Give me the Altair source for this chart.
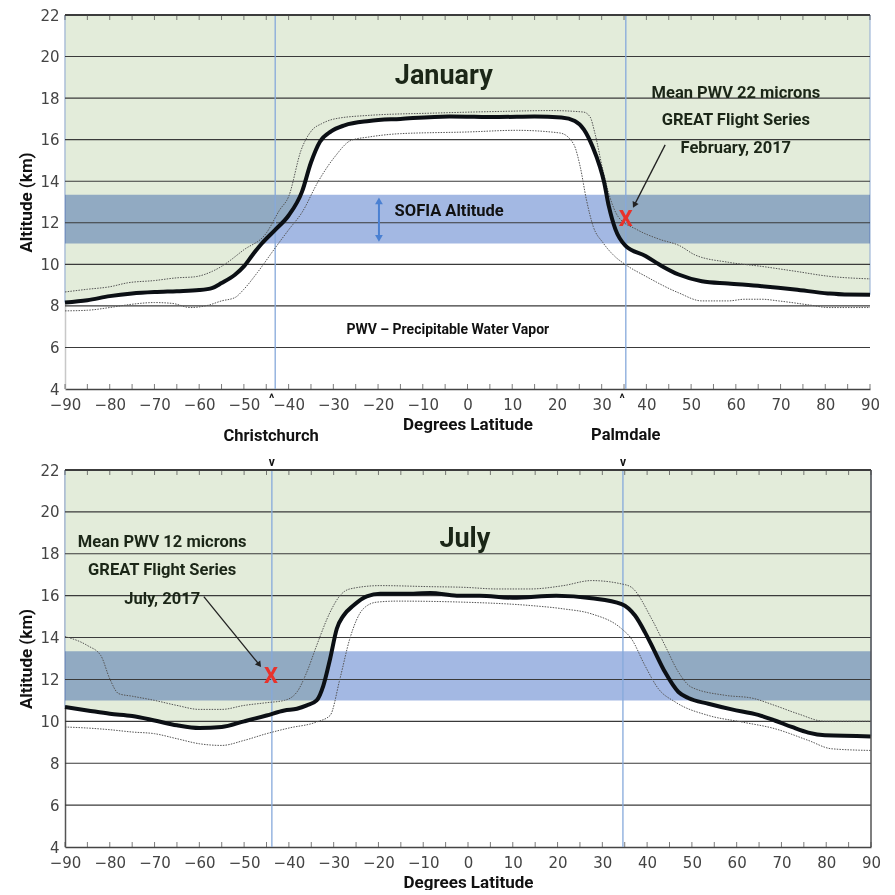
import altair as alt
import pandas as pd

# ---------------- data ----------------
jan_mean_lat = [-90, -85, -80, -75, -70, -65, -60, -57, -55, -52, -50, -48, -46, -43, -40, -37, -35, -33,
                -30.5, -27.5, -22, -15, -4, 7, 15, 21, 24, 26, 28, 29.6, 30.5, 31.6, 33.1, 35.3, 39.8,
                43.5, 47.2, 52.4, 58.3, 65.8, 73.2, 80.6, 84.3, 90]
jan_mean_alt = [8.16, 8.27, 8.47, 8.6, 8.67, 8.71, 8.76, 8.87, 9.1, 9.5, 9.9, 10.47, 11.0, 11.66, 12.35, 13.5,
                14.9, 15.9, 16.4, 16.69, 16.9, 17.0, 17.12, 17.09, 17.12, 17.07, 16.9, 16.5, 15.65, 14.7,
                14.0, 12.8, 11.67, 10.9, 10.4, 9.91, 9.51, 9.19, 9.08, 8.95, 8.79, 8.6, 8.55, 8.54]

jan_up_lat = [-90, -85, -80, -76, -70, -65, -61, -57, -55, -50, -45, -42, -40, -37.2, -34.8, -32.6, -29.7,
              -22, -7.4, 7.4, 18.5, 25.9, 27.4, 28.5, 30.3, 31.6, 33.7, 37.9, 43, 47.4, 50.9, 58.3, 65.8,
              73.2, 80.6, 90]
jan_up_alt = [8.67, 8.8, 8.92, 9.11, 9.22, 9.35, 9.4, 9.67, 9.9, 10.7, 11.5, 12.62, 13.26, 15.5, 16.45, 16.77,
              17.0, 17.17, 17.28, 17.36, 17.4, 17.33, 17.1, 16.3, 14.5, 13.4, 12.29, 11.67, 11.2, 10.9, 10.45,
              10.1, 9.9, 9.67, 9.43, 9.3]

jan_lo_lat = [-90, -85, -80, -75, -70, -66, -62, -58, -55, -52, -50, -47, -43, -40, -37, -33.4, -29.7, -26,
              -22, -15, 0, 11, 20.7, 23.7, 25.2, 26.6, 28.1, 30.3, 33, 35.3, 39.8, 47.2, 52.4, 58.3, 62,
              65.8, 69.5, 76.9, 80.6, 90]
jan_lo_alt = [7.76, 7.79, 7.92, 8.08, 8.16, 8.12, 7.92, 8.03, 8.24, 8.4, 8.8, 9.6, 10.79, 11.66, 12.5, 13.98,
              15.17, 15.97, 16.13, 16.29, 16.37, 16.45, 16.32, 15.8, 14.7, 13.1, 11.83, 11.04, 10.37, 9.99,
              9.43, 8.63, 8.24, 8.24, 8.32, 8.32, 8.24, 8.03, 7.92, 7.92]

jul_mean_lat = [-90, -85, -80, -75, -70, -65, -60, -55, -50, -45, -41, -38.2, -36, -33.8, -32.3, -30.8, -29.3,
                -27.8, -25.6, -22.6, -19.6, -12.2, -8.4, -2.5, 2.6, 10, 19.7, 27.6, 34.3, 37.3, 39.5, 41.4,
                44, 47, 49.2, 53.7, 58.9, 64.8, 68.5, 72.3, 76, 79.7, 90]
jul_mean_alt = [10.68, 10.52, 10.36, 10.25, 10.04, 9.81, 9.68, 9.73, 10.0, 10.28, 10.52, 10.6, 10.76, 11.0,
                11.71, 12.98, 14.42, 15.05, 15.53, 15.97, 16.09, 16.09, 16.13, 16.0, 16.0, 15.9, 16.0, 15.88,
                15.6, 15.05, 14.26, 13.46, 12.35, 11.4, 11.11, 10.84, 10.57, 10.31, 10.04, 9.73, 9.46, 9.33,
                9.28]

jul_up_lat = [-90, -85, -82, -80, -78, -75, -70, -65, -60, -55, -50, -45, -41, -38.2, -36, -33.8, -30.8,
              -28.6, -26.4, -19.6, -8.4, -1, 6.5, 13.9, 21.3, 27.6, 34.3, 36.5, 41, 44, 47, 49.9, 57.5,
              63.4, 68.5, 73.7, 79.7, 90]
jul_up_alt = [14.05, 13.62, 13.14, 12.03, 11.32, 11.2, 11.0, 10.76, 10.57, 10.57, 10.76, 10.89, 11.0, 11.4,
              12.35, 13.62, 15.21, 16.0, 16.32, 16.48, 16.43, 16.4, 16.32, 16.32, 16.48, 16.72, 16.56, 16.4,
              14.9, 13.62, 12.35, 11.63, 11.24, 11.11, 10.76, 10.36, 10.0, 10.0]

jul_lo_lat = [-90, -85, -80, -75, -70, -65, -60, -55, -50, -45, -40, -33.8, -30.8, -28.6, -26.4, -23.4,
              -20.4, -15.9, -1, 13.9, 21.3, 27.6, 34.3, 36.5, 39.5, 42.5, 46.3, 53.7, 61.1, 68.5, 76, 81.2, 90]
jul_lo_alt = [9.73, 9.68, 9.6, 9.49, 9.41, 9.17, 8.93, 8.85, 9.09, 9.41, 9.68, 9.97, 10.28, 12.03, 13.94,
              15.37, 15.69, 15.74, 15.69, 15.53, 15.37, 15.13, 14.42, 13.94, 12.67, 11.56, 10.92, 10.28, 9.97,
              9.65, 9.09, 8.69, 8.61]

sofia_band = [11.0, 13.35]          # SOFIA altitude band (km)
grid_vals = [6, 8, 10, 12, 14, 16, 18, 20]
y_ticks = list(range(4, 23, 2))
x_labels = list(range(-90, 91, 10))
x_minor = list(range(-90, 91, 5))
loc_names = ["Christchurch", "Palmdale"]
loc_lat_top = [-43.0, 35.4]
loc_lat_bot = [-43.8, 34.6]

jan_note = ["Mean PWV 22 microns", "GREAT Flight Series", "February, 2017"]
jan_note_pos = (60, [18.27, 16.93, 15.59])
jan_x = (35.4, 12.18)
jan_arrow = [(44.2, 15.75), (37.3, 12.85)]

jul_note = ["Mean PWV 12 microns", "GREAT Flight Series", "July, 2017"]
jul_note_pos = (-68.3, [18.56, 17.23, 15.85])
jul_x = (-44.0, 12.17)
jul_arrow = [(-59.0, 15.95), (-46.6, 12.7)]

# ---------------- styling ----------------
COND = "Roboto"
LAB = "DejaVu Sans"
TXT = "#1b2617"

XS = alt.Scale(domain=[-90, 90], nice=False, zero=False)
YS = alt.Scale(domain=[4, 22], nice=False, zero=False)


def xaxis(dom_color):
    return alt.Axis(title="Degrees Latitude", values=x_labels, ticks=False, grid=False,
                    domainColor=dom_color, domainWidth=1.5, labelFont=LAB, labelFontSize=15,
                    labelColor="#444", labelPadding=8, labelFlush=False, titleFont=COND,
                    titleFontSize=17, titleFontWeight="bold", titleColor="#111", titlePadding=4)


def yaxis(dom_color):
    return alt.Axis(title="Altitude (km)", values=y_ticks, ticks=False, grid=False,
                    domainColor=dom_color, domainWidth=1.5, labelFont=LAB, labelFontSize=15,
                    labelColor="#444", labelPadding=6, titleFont=COND, titleFontSize=17,
                    titleFontWeight="bold", titleColor="#111", titlePadding=4)


def df(lat, alt_vals):
    return pd.DataFrame({"lat": lat, "alt": alt_vals})


def panel(mean, up, lo, loc_lat, title, title_pos, note, note_pos, xmark, arrow, arrow_angle,
          top, w, h):
    xd = "#444"
    yd = "#c8c8c8" if top else "#555"
    X = lambda f="lat": alt.X(f"{f}:Q", scale=XS, axis=xaxis(xd))
    Y = lambda f="alt": alt.Y(f"{f}:Q", scale=YS, axis=yaxis(yd))

    layers = []
    # green region above the tropopause
    layers.append(alt.Chart(df(*mean)).mark_area(
        interpolate="monotone", color="#e3ecda", stroke="#8ea9d2", strokeWidth=1
    ).encode(x=X(), y=Y(), y2=alt.Y2(datum=22)))
    # SOFIA band
    band_df = pd.DataFrame({"lat": [-90], "lat2": [90], "alt": [sofia_band[0]], "alt2": [sofia_band[1]]})
    layers.append(alt.Chart(band_df).mark_rect(color="#a3b8e3", blend="multiply").encode(
        x=X(), x2="lat2:Q", y=Y(), y2="alt2:Q"))
    # horizontal grid lines
    g = pd.DataFrame({"alt": grid_vals, "lat": [-90] * len(grid_vals), "lat2": [90] * len(grid_vals)})
    layers.append(alt.Chart(g).mark_rule(color="#3a3a3a", strokeWidth=1.1).encode(
        x=X(), x2="lat2:Q", y=Y()))
    # location lines
    ldf = pd.DataFrame({"lat": loc_lat, "alt": [4, 4], "alt2": [22, 22]})
    layers.append(alt.Chart(ldf).mark_rule(color="#86a9db", strokeWidth=1.3).encode(
        x=X(), y=Y(), y2="alt2:Q"))
    # envelopes
    for s in (up, lo):
        layers.append(alt.Chart(df(*s)).mark_line(
            interpolate="monotone", color="#555", strokeWidth=1, strokeDash=[1.5, 1.2]
        ).encode(x=X(), y=Y()))
    # mean tropopause
    layers.append(alt.Chart(df(*mean)).mark_line(
        interpolate="monotone", color="#0b0f14", strokeWidth=4
    ).encode(x=X(), y=Y()))
    # frame: top and (bottom panel) right
    layers.append(alt.Chart(pd.DataFrame({"lat": [-90], "lat2": [90], "alt": [22]})).mark_rule(
        color="#3c3c3c", strokeWidth=2).encode(x=X(), x2="lat2:Q", y=Y()))
    if not top:
        layers.append(alt.Chart(pd.DataFrame({"lat": [90], "alt": [4], "alt2": [22]})).mark_rule(
            color="#555", strokeWidth=1.5).encode(x=X(), y=Y(), y2="alt2:Q"))
    # tick marks (inward)
    tb = pd.DataFrame({"lat": x_minor, "alt": [4] * len(x_minor)})
    tt = pd.DataFrame({"lat": x_minor, "alt": [22] * len(x_minor)})
    layers.append(alt.Chart(tb).mark_tick(orient="vertical", size=5, thickness=1, color="#444",
                                          yOffset=-2.5).encode(x=X(), y=Y()))
    layers.append(alt.Chart(tt).mark_tick(orient="vertical", size=5, thickness=1, color="#444",
                                          yOffset=2.5).encode(x=X(), y=Y()))
    # month title
    layers.append(alt.Chart(pd.DataFrame({"lat": [title_pos[0]], "alt": [title_pos[1]], "t": [title]}))
                  .mark_text(font=COND, fontSize=27, fontWeight="bold", color=TXT)
                  .encode(x=X(), y=Y(), text="t:N"))
    # note
    ndf = pd.DataFrame({"lat": [note_pos[0]] * 3, "alt": note_pos[1], "t": note})
    layers.append(alt.Chart(ndf).mark_text(font=COND, fontSize=16.5, fontWeight="bold", color=TXT)
                  .encode(x=X(), y=Y(), text="t:N"))
    # arrow to the X
    adf = pd.DataFrame({"lat": [arrow[0][0]], "alt": [arrow[0][1]],
                        "lat2": [arrow[1][0]], "alt2": [arrow[1][1]]})
    layers.append(alt.Chart(adf).mark_rule(color="#222", strokeWidth=1.3).encode(
        x=X(), y=Y(), x2="lat2:Q", y2="alt2:Q"))
    hdf = pd.DataFrame({"lat": [arrow[1][0]], "alt": [arrow[1][1]]})
    layers.append(alt.Chart(hdf).mark_point(shape="triangle-up", filled=True, color="#222", size=45,
                                            angle=arrow_angle, opacity=1).encode(x=X(), y=Y()))
    # red X
    layers.append(alt.Chart(pd.DataFrame({"lat": [xmark[0]], "alt": [xmark[1]], "t": ["X"]}))
                  .mark_text(font=COND, fontSize=22, fontWeight="bold", color="#e8322b")
                  .encode(x=X(), y=Y(), text="t:N"))

    if top:
        # SOFIA arrow and labels
        sdf = pd.DataFrame({"lat": [-19.8], "alt": [11.25], "alt2": [13.1]})
        layers.append(alt.Chart(sdf).mark_rule(color="#4a80d2", strokeWidth=2).encode(
            x=X(), y=Y(), y2="alt2:Q"))
        sh = pd.DataFrame({"lat": [-19.8, -19.8], "alt": [13.05, 11.25], "a": [0, 180]})
        layers.append(alt.Chart(sh).mark_point(shape="triangle-up", filled=True, color="#4a80d2",
                                               size=60, opacity=1)
                      .encode(x=X(), y=Y(), angle=alt.Angle("a:Q", scale=None)))
        layers.append(alt.Chart(pd.DataFrame({"lat": [-16.3], "alt": [12.57], "t": ["SOFIA Altitude"]}))
                      .mark_text(font=COND, fontSize=16.5, fontWeight="bold", color="#111", align="left")
                      .encode(x=X(), y=Y(), text="t:N"))
        layers.append(alt.Chart(pd.DataFrame({"lat": [-4.4], "alt": [6.85],
                                              "t": ["PWV \u2013 Precipitable Water Vapor"]}))
                      .mark_text(font=COND, fontSize=14, fontWeight="bold", color="#111")
                      .encode(x=X(), y=Y(), text="t:N"))
        # location labels below the axis
        cdf = pd.DataFrame({"lat": [-43.9, 35.4], "alt": [1.72, 1.80], "t": loc_names})
        layers.append(alt.Chart(cdf).mark_text(font=COND, fontSize=16.5, fontWeight="bold", color="#111")
                      .encode(x=X(), y=Y(), text="t:N"))
        kdf = pd.DataFrame({"lat": [v - 0.8 for v in loc_lat], "alt": [3.5, 3.5], "t": ["^", "^"]})
        layers.append(alt.Chart(kdf).mark_text(font=COND, fontSize=12, fontWeight="bold", color="#111")
                      .encode(x=X(), y=Y(), text="t:N"))
    else:
        kdf = pd.DataFrame({"lat": loc_lat, "alt": [22.4, 22.4], "t": ["v", "v"]})
        layers.append(alt.Chart(kdf).mark_text(font=COND, fontSize=12, fontWeight="bold", color="#111")
                      .encode(x=X(), y=Y(), text="t:N"))

    return alt.layer(*layers).properties(width=w, height=h)


top_chart = panel((jan_mean_lat, jan_mean_alt), (jan_up_lat, jan_up_alt), (jan_lo_lat, jan_lo_alt),
                  loc_lat_top, "January", (-5.3, 19.08), jan_note, jan_note_pos, jan_x, jan_arrow, 206.6,
                  True, 805, 374)
bot_chart = panel((jul_mean_lat, jul_mean_alt), (jul_up_lat, jul_up_alt), (jul_lo_lat, jul_lo_alt),
                  loc_lat_bot, "July", (-0.7, 18.7), jul_note, jul_note_pos, jul_x, jul_arrow, 142.6,
                  False, 806, 377)

chart = alt.vconcat(top_chart, bot_chart, spacing=10).configure_view(stroke=None).properties(
    padding={"left": 9, "top": 0, "right": 0, "bottom": 0}, background="white")

chart.save("out.html", embed_options={"renderer": "svg", "actions": False})
